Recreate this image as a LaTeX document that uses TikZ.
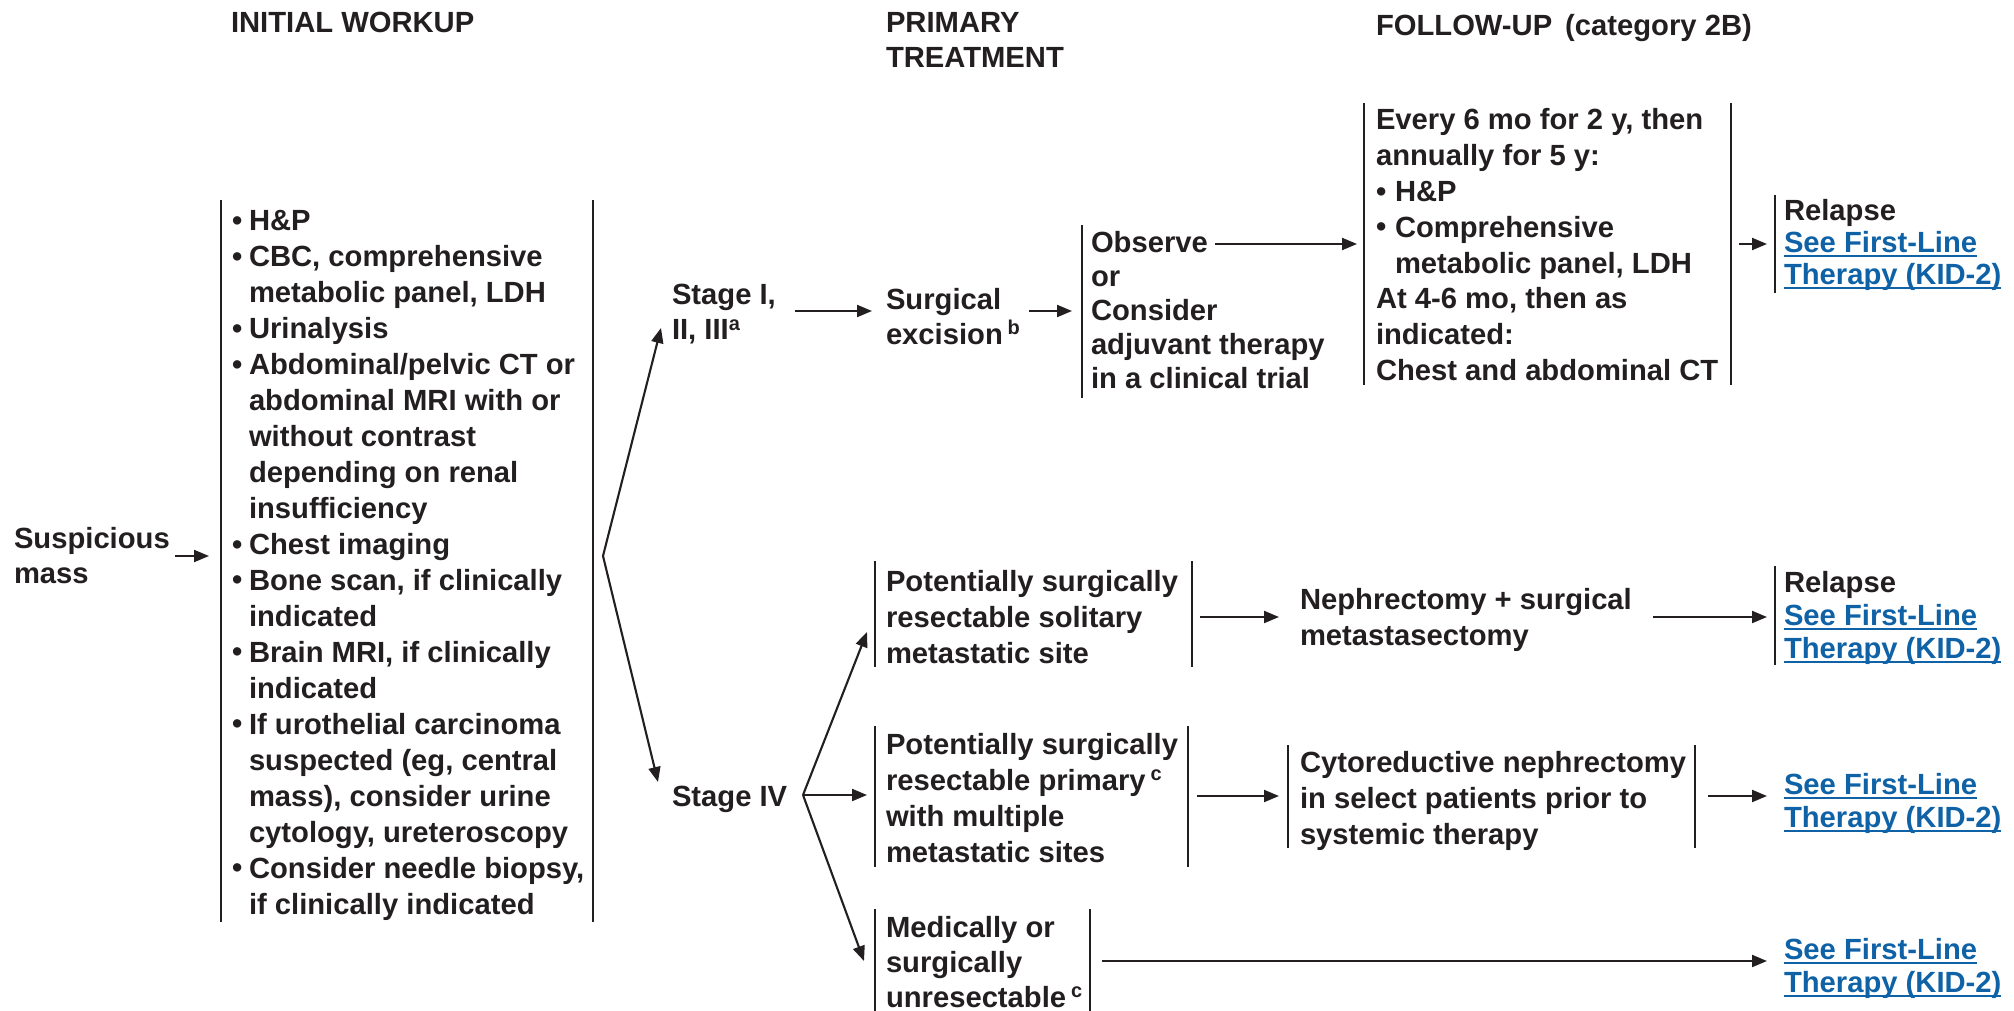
\documentclass[tikz,border=0pt]{standalone}
\usepackage{fontspec}
\setmainfont{Liberation Sans}
\usetikzlibrary{arrows.meta}
\definecolor{ink}{HTML}{231F20}
\definecolor{linkblue}{HTML}{0F62A6}
\newcommand{\blk}[2][35pt]{{\fontsize{29.2pt}{#1}\selectfont\begin{tabular}[t]{@{}l@{}}#2\end{tabular}}}
\newcommand{\sps}[1]{\smash{\raisebox{0.33em}{\fontsize{20pt}{20pt}\selectfont #1}}}
\newcommand{\bul}{\makebox[17pt][l]{\raisebox{0.5pt}{•}}}
\newcommand{\bulf}{\makebox[19pt][l]{\raisebox{0.5pt}{•}}}
\newcommand{\ind}{\hspace*{17pt}}
\newcommand{\indf}{\hspace*{19pt}}
\newcommand{\lnk}[1]{\setbox0\hbox{#1}\textcolor{linkblue}{\rlap{\rule[-4.5pt]{\wd0}{2pt}}\box0}}
\tikzset{
  txt/.style={anchor=base west, inner sep=0pt, outer sep=0pt, text=ink, font=\bfseries},
  bar/.style={draw=ink, line width=2.2pt},
  arr/.style={draw=ink, line width=2.1pt, -{Triangle[length=15pt,width=12pt]}},
}
\begin{document}
\begin{tikzpicture}[x=1pt,y=-1pt]
\useasboundingbox (0,0) rectangle (2014,1011);

% headers
\node[txt] (h1) at (231,33) {\blk{INITIAL WORKUP}};
\node[txt] (h2) at (886,33) {\blk{PRIMARY\\TREATMENT}};
\node[txt] (h3) at (1376,36) {\blk{FOLLOW-UP\hspace{13pt}(category 2B)}};

% initial
\node[txt] (susp) at (14,548) {\blk{Suspicious\\mass}};
\coordinate (suspE) at (175,556);
\coordinate (workW) at (209,556);
\draw[arr] (suspE) -- (workW);

\node[txt] (work) at (232,231) {\blk[35.95pt]{%
\bul H\&P\\
\bul CBC, comprehensive\\
\ind metabolic panel, LDH\\
\bul Urinalysis\\
\bul Abdominal/pelvic CT or\\
\ind abdominal MRI with or\\
\ind without contrast\\
\ind depending on renal\\
\ind insufficiency\\
\bul Chest imaging\\
\bul Bone scan, if clinically\\
\ind indicated\\
\bul Brain MRI, if clinically\\
\ind indicated\\
\bul If urothelial carcinoma\\
\ind suspected (eg, central\\
\ind mass), consider urine\\
\ind cytology, ureteroscopy\\
\bul Consider needle biopsy,\\
\ind if clinically indicated}};
\draw[bar] (221,200) -- (221,922);
\draw[bar] (593,200) -- (593,922);

% branch to stages
\coordinate (v1) at (603,556);
\coordinate (tI) at (661,328);
\coordinate (tIV) at (658,782);
\draw[arr] (v1) -- (tI);
\draw[arr] (v1) -- (tIV);

\node[txt] (stI) at (672,305) {\blk{Stage I,\\II, III\sps{a}}};
\node[txt] (stIV) at (672,806) {\blk{Stage IV}};

% stage I path
\coordinate (stIE) at (795,311);
\coordinate (surgW) at (872,311);
\draw[arr] (stIE) -- (surgW);
\node[txt] (surg) at (886,309) {\blk{Surgical\\excision\,\sps{b}}};
\coordinate (surgE) at (1029,311);
\coordinate (obsW) at (1072,311);
\draw[arr] (surgE) -- (obsW);

\node[txt] (obs) at (1091,253) {\blk[34pt]{Observe\\or\\Consider\\adjuvant therapy\\in a clinical trial}};
\draw[bar] (1082,225) -- (1082,398);
\coordinate (obsE) at (1215,244);
\coordinate (fuW) at (1357,244);
\draw[arr] (obsE) -- (fuW);

\node[txt] (fu) at (1376,130) {\blk[35.8pt]{%
Every 6 mo for 2 y, then\\
annually for 5 y:\\
\bulf H\&P\\
\bulf Comprehensive\\
\indf metabolic panel, LDH\\
At 4-6 mo, then as\\
indicated:\\
Chest and abdominal CT}};
\draw[bar] (1364,103) -- (1364,385);
\draw[bar] (1731,103) -- (1731,385);
\coordinate (fuE) at (1739,244);
\coordinate (rel1W) at (1767,244);
\draw[arr] (fuE) -- (rel1W);

\node[txt] (rel1) at (1784,221) {\blk[32pt]{Relapse\\\lnk{See First-Line}\\\lnk{Therapy (KID-2)}}};
\draw[bar] (1775,195) -- (1775,293);

% stage IV branches
\coordinate (v2) at (803,795);
\coordinate (tA) at (867,632);
\coordinate (tB) at (867,795);
\coordinate (tC) at (864,961);
\draw[arr] (v2) -- (tA);
\draw[arr] (v2) -- (tB);
\draw[arr] (v2) -- (tC);

% A
\node[txt] (bA) at (886,591) {\blk[36pt]{Potentially surgically\\resectable solitary\\metastatic site}};
\draw[bar] (875,561) -- (875,667);
\draw[bar] (1192,561) -- (1192,667);
\coordinate (bAE) at (1200,617);
\coordinate (nephW) at (1279,617);
\draw[arr] (bAE) -- (nephW);
\node[txt] (neph) at (1300,609) {\blk[36pt]{Nephrectomy + surgical\\metastasectomy}};
\coordinate (nephE) at (1653,617);
\coordinate (rel2W) at (1767,617);
\draw[arr] (nephE) -- (rel2W);
\node[txt] (rel2) at (1784,592) {\blk[33pt]{Relapse\\\lnk{See First-Line}\\\lnk{Therapy (KID-2)}}};
\draw[bar] (1775,566) -- (1775,665);

% B
\node[txt] (bB) at (886,754) {\blk[36pt]{Potentially surgically\\resectable primary\,\sps{c}\\with multiple\\metastatic sites}};
\draw[bar] (875,726) -- (875,867);
\draw[bar] (1188,726) -- (1188,867);
\coordinate (bBE) at (1197,796);
\coordinate (cytoW) at (1279,796);
\draw[arr] (bBE) -- (cytoW);
\node[txt] (cyto) at (1300,772) {\blk[36pt]{Cytoreductive nephrectomy\\in select patients prior to\\systemic therapy}};
\draw[bar] (1288,745) -- (1288,848);
\draw[bar] (1695,745) -- (1695,848);
\coordinate (cytoE) at (1708,796);
\coordinate (see3W) at (1767,796);
\draw[arr] (cytoE) -- (see3W);
\node[txt] (see3) at (1784,794) {\blk[33pt]{\lnk{See First-Line}\\\lnk{Therapy (KID-2)}}};

% C
\node[txt] (bC) at (886,937) {\blk[35pt]{Medically or\\surgically\\unresectable\,\sps{c}}};
\draw[bar] (875,909) -- (875,1011);
\draw[bar] (1090,909) -- (1090,1011);
\coordinate (bCE) at (1102,961);
\coordinate (see4W) at (1767,961);
\draw[arr] (bCE) -- (see4W);
\node[txt] (see4) at (1784,959) {\blk[33pt]{\lnk{See First-Line}\\\lnk{Therapy (KID-2)}}};
\end{tikzpicture}
\end{document}
